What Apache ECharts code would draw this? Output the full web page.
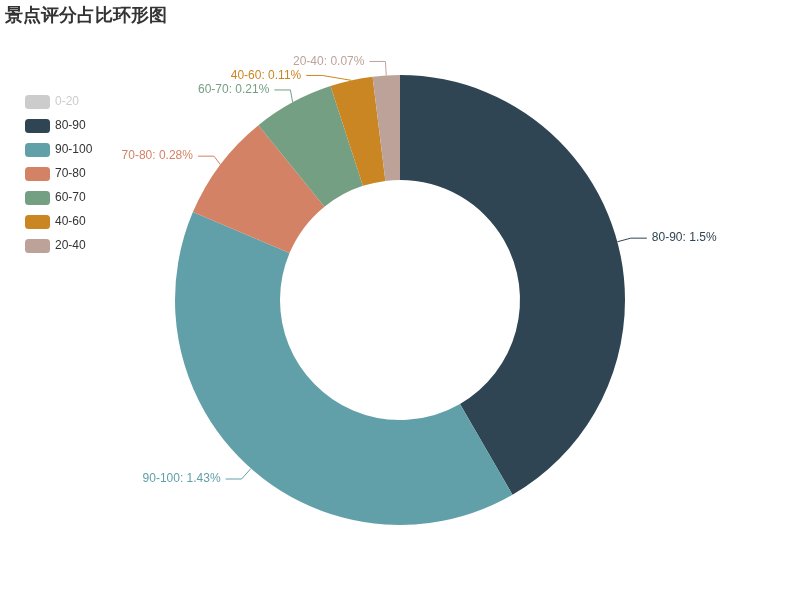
<!DOCTYPE html>
<html><head><meta charset="utf-8">
<script src="https://cdn.jsdelivr.net/npm/echarts@6/dist/echarts.min.js"></script>
<style>html,body{margin:0;padding:0;background:#fff}#c{width:800px;height:600px}</style>
</head><body><div id="c"></div>
<script>
var categories = ['0-20','80-90','90-100','70-80','60-70','40-60','20-40'];
var values = [0.02, 1.5, 1.43, 0.28, 0.21, 0.11, 0.07];
var colors = ['#c23531','#2f4554','#61a0a8','#d48265','#749f83','#ca8622','#bda29a'];
var chart = echarts.init(document.getElementById('c'));
chart.setOption({
  animation:false,
  color: colors,
  title:{text:'景点评分占比环形图',left:0,top:2,textStyle:{fontSize:18,fontWeight:'bold',color:'#333'}},
  legend:{orient:'vertical',left:20,top:90,itemWidth:25,itemHeight:14,itemGap:10,icon:'roundRect',
    inactiveColor:'#ccc',
    textStyle:{color:'#333',fontSize:12},data:categories,selected:{'0-20':false}},
  series:[{type:'pie',center:['50%','50%'],radius:['40%','75%'],
    label:{formatter:'{b}: {c}%',fontSize:12,color:'inherit',distanceToLabelLine:5},
    labelLine:{length:14,length2:16,lineStyle:{width:1}},
    data:categories.map(function(c,i){return {name:c,value:values[i],itemStyle:{color:colors[i]}};})}]
});
</script></body></html>
